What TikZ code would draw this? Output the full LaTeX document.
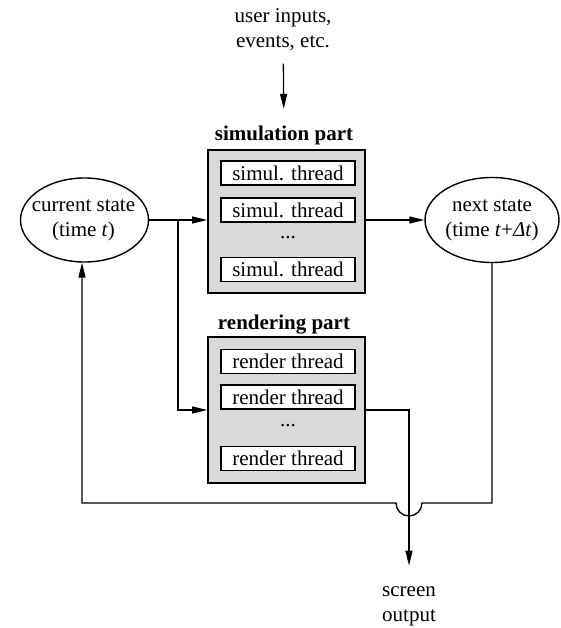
\documentclass[tikz,border=0pt]{standalone}
\usepackage{fontspec}
\setmainfont{Liberation Serif}
\usetikzlibrary{arrows.meta,shapes.geometric}
\definecolor{panel}{HTML}{D9D9D9}
\begin{document}
\begin{tikzpicture}[x=1pt,y=-1pt,
  font=\fontsize{21}{25}\selectfont,
  line width=1.3pt,
  arr/.style={-{Triangle[length=15pt,width=7pt]}},
  panelbox/.style={draw, line width=1.6pt, fill=panel, minimum width=157pt, inner sep=0pt},
  thread/.style={draw, line width=1.4pt, fill=white, minimum width=134pt, minimum height=24pt, inner sep=0pt},
  state/.style={draw, ellipse, line width=1.4pt, inner sep=0pt},
  lbl/.style={align=center, inner sep=0pt},
  ttl/.style={font=\fontsize{21}{25}\selectfont\bfseries, inner sep=0pt}]
\useasboundingbox (0,0) rectangle (560,628);

\node[lbl] (inp) at (283,30) {user inputs,\\events, etc.};
\node[ttl] (simt) at (284,135) {simulation part};
\node[panelbox, minimum height=143pt] (sim) at (286.5,221.5) {};
\node[thread] (s1) at (288,173) {simul. thread};
\node[thread] (s2) at (288,210) {simul. thread};
\node[lbl] (sd) at (288,238) {...};
\node[thread] (s3) at (288,269.5) {simul. thread};

\node[ttl] (rent) at (284,325) {rendering part};
\node[panelbox, minimum height=146pt] (ren) at (286.5,410) {};
\node[thread] (r1) at (288,361.5) {render thread};
\node[thread] (r2) at (288,397) {render thread};
\node[lbl] (rd) at (288,426) {...};
\node[thread] (r3) at (288,458.5) {render thread};

\node[state, minimum width=128pt, minimum height=84pt] (cur) at (84.5,220) {};
\node[lbl] (curt) at ([xshift=-1pt]cur.center) {current state\\(time \textit{t})};
\node[state, minimum width=134pt, minimum height=85pt] (nxt) at (492,220) {};
\node[lbl] (nxtt) at (nxt.center) {next state\\(time \textit{t}+\textit{Δt})};

\node[lbl] (scr) at (409,606) {screen\\output};

\coordinate (br) at (178,220);
\coordinate (hop) at (409,503);
\coordinate (fbl) at (82,503);

\draw[arr, shorten <=12pt, shorten >=16pt] (inp) -- (simt);
\draw[arr] (cur.east) -- (sim.west |- cur.east);
\draw[arr] (br) |- (ren.west);
\draw[arr] (sim.east |- nxt.west) -- (nxt.west);
\draw[arr, shorten >=20pt] (ren.east) -| (scr.north);
\draw[arr] (nxt.south) |- ([xshift=13pt]hop) arc[start angle=0, end angle=180, radius=13] -- (fbl) -- (cur.south -| fbl);
\end{tikzpicture}
\end{document}
